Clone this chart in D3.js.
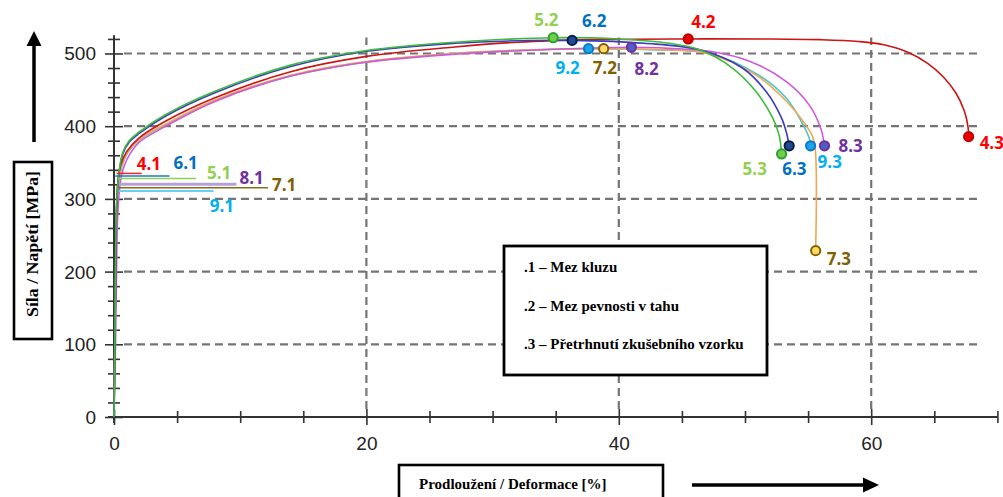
<!DOCTYPE html>
<html>
<head>
<meta charset="utf-8">
<script src="https://cdn.jsdelivr.net/npm/d3@7"></script>
<style>
  body { margin: 0; background: #fff; }
</style>
</head>
<body>
<div id="chart"></div>
<script>
// ---- data (strain %, stress MPa) ----
var specimens = ["4", "5", "6", "7", "8", "9"];

var curve4 = [[0,0],[0.1,150],[0.2,280],[0.3,322],[0.5,345],[1.0,365],[2,384],[4,406],[8,439],[14,475],[20,496],[27,509],[32,515.5],[38,519],[45.5,520],[52,520],[56,519],[59,516.5],[61,512],[63,501],[64.5,486],[65.7,468],[66.7,446],[67.4,420],[67.68,398],[67.72,385.6]];
var curve5 = [[0,0],[0.1,150],[0.2,290],[0.4,337],[0.7,364],[1.2,380],[2,392],[4,415],[8,448],[14,484],[20,504],[27,515.5],[31,519.5],[34.8,521.7],[40,520],[44,514],[46.4,505],[49,480],[50.9,447],[52.2,411],[52.7,388],[52.9,362]];
var curve6 = [[0,0],[0.1,150],[0.2,290],[0.4,335],[0.7,362],[1.2,378],[2,390],[4,413],[8,446],[14,482],[20,503],[27,514],[32,517.5],[36.3,518],[42,514],[46.4,505],[49.8,480],[51.7,447],[52.9,411],[53.3,390],[53.5,373]];
var curve7 = [[0,0],[0.1,140],[0.2,270],[0.35,320],[0.6,345],[1.1,365],[2,382],[4,402],[8,436],[14,470],[20,489],[27,500],[33,505],[38.8,506.6],[44,505],[47,500],[50.9,470],[53.3,434],[54.8,402],[55.3,388],[55.55,372],[55.6,229]];
var curve8 = [[0,0],[0.12,100],[0.2,200],[0.3,280],[0.5,322],[0.8,345],[1.3,363],[2,378],[4,399],[8,434],[14,469],[20,488],[27,499],[33,504.5],[41,508.5],[44,507],[47.2,503],[50.4,489],[53.3,461],[55.1,429],[56,397],[56.3,373]];
var curve9 = [[0,0],[0.1,140],[0.2,270],[0.35,318],[0.6,343],[1.1,364],[2,381],[4,401],[8,435],[14,469],[20,488.5],[27,500],[33,505],[37.6,506.6],[43,505],[47.2,500],[51.1,470],[53.3,438],[54.6,402],[55.1,383],[55.2,373]];

// .1 yield stress and length of the marker line (strain)
var yieldStress = [335, 328, 331.5, 315.4, 320, 311];
var yieldFrom   = [0.2, 0.3, 0.1, 0.4, 0.4, 0.4];
var yieldTo     = [2.2, 6.5, 4.4, 12.2, 9.7, 7.9];
// .2 ultimate strength
var ultimatePoints = [[45.5,520],[34.8,521.7],[36.3,518],[38.8,506.6],[41.0,508.5],[37.6,506.6]];
// .3 fracture
var fracturePoints = [[67.72,385.6],[52.9,361.8],[53.5,373],[55.6,228.8],[56.3,373],[55.2,373]];

var xTickLabels = [0, 20, 40, 60];
var yTickLabels = [0, 100, 200, 300, 400, 500];
var legendItems = [".1 \u2013 Mez kluzu", ".2 \u2013 Mez pevnosti v tahu", ".3 \u2013 P\u0159etrhnut\u00ed zku\u0161ebn\u00edho vzorku"];

// ---- styles / layout ----
var curves = [curve4, curve5, curve6, curve7, curve8, curve9];
var curveColor  = ["#cc1414", "#3dbb3d", "#3b3bbf", "#f2a654", "#cf5ad8", "#45c9cc"];
var labelColor  = ["#ff0000", "#92d050", "#0070c0", "#806000", "#7030a0", "#00b0f0"];
var yieldColor  = ["#ff2020", "#8fd050", "#1a78c8", "#8a6a1c", "#b6a0d8", "#66d2f2"];
var yieldWidth  = [1.5, 1.5, 1.5, 1.5, 3, 2];
var markFill    = ["#e60000", "#6fcf4a", "#1f4a94", "#ffd966", "#4b5fc4", "#1aa6e6"];
var markStroke  = ["#c00000", "#2e9e2e", "#0a1d45", "#7f6000", "#7030a0", "#0a78c8"];
var drawOrder   = [5, 3, 4, 0, 2, 1];

// label offsets in px: .1 from the line end, .2/.3 from the marker (text start, text middle)
var off1 = [[-5,-10],[11,-6],[4,-13],[4,-3],[3,-7],[-4,15]];
var off2 = [[3,-17],[-19,-18],[10,-20],[-11,19],[3,21],[-33,19]];
var off3 = [[11,6],[-39,15],[-7,23],[11,8],[14,0],[7,16]];

var W = 1003, H = 497;
var svg = d3.select("#chart").append("svg")
  .attr("width", W).attr("height", H)
  .style("font-family", "'Liberation Sans', Arial, sans-serif");

var x = d3.scaleLinear().domain([0, 70]).range([114, 114 + 70 * 12.62]);
var y = d3.scaleLinear().domain([0, 525]).range([417, 35.3]);

// grid
var grid = svg.append("g").attr("class", "grid")
  .attr("stroke", "#747474").attr("stroke-width", 2.2).attr("stroke-dasharray", "8,5").attr("fill", "none");
grid.selectAll(".gh").data(yTickLabels.filter(function(d){ return d > 0; }))
  .enter().append("line")
  .attr("x1", x(0) + 10).attr("x2", x(68.6))
  .attr("y1", function(d){ return y(d); }).attr("y2", function(d){ return y(d); });
grid.selectAll(".gv").data(xTickLabels.filter(function(d){ return d > 0; }))
  .enter().append("line")
  .attr("x1", function(d){ return x(d); }).attr("x2", function(d){ return x(d); })
  .attr("y1", y(0) - 8).attr("y2", y(522));

// axes
var xAxis = d3.axisBottom(x).tickValues(d3.range(0, 71, 5)).tickSize(0).tickSizeOuter(0)
  .tickFormat(function(d){ return xTickLabels.indexOf(d) >= 0 ? d : ""; });
var gx = svg.append("g").attr("transform", "translate(0," + y(0) + ")").call(xAxis);
gx.select(".domain").attr("stroke", "#333").attr("stroke-width", 2).attr("d", "M" + (x(0) - 6) + ",0H" + x(70));
gx.selectAll(".tick line").attr("stroke", "#333").attr("stroke-width", 1.6)
  .attr("y1", function(d){ return d % 20 === 0 ? -8 : -6; }).attr("y2", function(d){ return d % 20 === 0 ? 8 : 6; });
gx.selectAll(".tick text").attr("y", 20).attr("dy", "0.71em")
  .attr("fill", "#222").style("font-size", "19px");

var yAxis = d3.axisLeft(y).tickValues(d3.range(0, 521, 20)).tickSize(0).tickSizeOuter(0)
  .tickFormat(function(d){ return yTickLabels.indexOf(d) >= 0 ? d : ""; });
var gy = svg.append("g").attr("transform", "translate(" + x(0) + ",0)").call(yAxis);
gy.select(".domain").attr("stroke", "#333").attr("stroke-width", 2).attr("d", "M0," + (y(0) + 6) + "V" + y(525));
gy.selectAll(".tick line").attr("stroke", "#333").attr("stroke-width", 1.6)
  .attr("x1", function(d){ return d % 100 === 0 ? -9 : -6; }).attr("x2", function(d){ return d % 100 === 0 ? 9 : 6; });
gy.selectAll(".tick text").attr("x", -18).attr("dy", "0.34em")
  .attr("fill", "#222").style("font-size", "19px");

// curves
var line = d3.line()
  .x(function(d){ return x(d[0]); })
  .y(function(d){ return y(d[1]); })
  .curve(d3.curveCatmullRom.alpha(0.5));

svg.append("g").selectAll("path").data(drawOrder).enter().append("path")
  .attr("d", function(i){ return line(curves[i]); })
  .attr("fill", "none")
  .attr("stroke", function(i){ return curveColor[i]; })
  .attr("stroke-width", 1.6);

// .1 yield lines
svg.append("g").selectAll("line").data(specimens).enter().append("line")
  .attr("x1", function(d, i){ return x(yieldFrom[i]); })
  .attr("x2", function(d, i){ return x(yieldTo[i]); })
  .attr("y1", function(d, i){ return y(yieldStress[i]); })
  .attr("y2", function(d, i){ return y(yieldStress[i]); })
  .attr("stroke", function(d, i){ return yieldColor[i]; })
  .attr("stroke-width", function(d, i){ return yieldWidth[i]; });

// .2 / .3 markers
function markers(points) {
  svg.append("g").selectAll("circle").data(specimens).enter().append("circle")
    .attr("cx", function(d, i){ return x(points[i][0]); })
    .attr("cy", function(d, i){ return y(points[i][1]); })
    .attr("r", 4.6)
    .attr("fill", function(d, i){ return markFill[i]; })
    .attr("stroke", function(d, i){ return markStroke[i]; })
    .attr("stroke-width", 2);
}
markers(ultimatePoints);
markers(fracturePoints);

// point labels
var labels = svg.append("g")
  .style("font-family", "'Open Sans', 'DejaVu Sans', sans-serif")
  .style("font-weight", "bold").style("font-size", "17px");
function addLabels(suffix, ax, ay, off) {
  labels.selectAll(".l" + suffix).data(specimens).enter().append("text")
    .attr("x", function(d, i){ return ax(i) + off[i][0]; })
    .attr("y", function(d, i){ return ay(i) + off[i][1]; })
    .attr("dominant-baseline", "central")
    .attr("fill", function(d, i){ return labelColor[i]; })
    .text(function(d){ return d + "." + suffix; });
}
addLabels("1", function(i){ return x(yieldTo[i]); }, function(i){ return y(yieldStress[i]); }, off1);
addLabels("2", function(i){ return x(ultimatePoints[i][0]); }, function(i){ return y(ultimatePoints[i][1]); }, off2);
addLabels("3", function(i){ return x(fracturePoints[i][0]); }, function(i){ return y(fracturePoints[i][1]); }, off3);

// legend box
var serif = "'Liberation Serif', 'Times New Roman', serif";
var leg = svg.append("g");
leg.append("rect").attr("x", 504).attr("y", 246).attr("width", 263).attr("height", 129)
  .attr("fill", "#fff").attr("stroke", "#000").attr("stroke-width", 2.8);
leg.selectAll("text").data(legendItems).enter().append("text")
  .attr("x", 524).attr("y", function(d, i){ return 272 + i * 38.5; })
  .style("font-family", serif).style("font-weight", "bold").style("font-size", "15px")
  .text(function(d){ return d; });

// axis titles
svg.append("rect").attr("x", 14).attr("y", 162).attr("width", 38).attr("height", 177)
  .attr("fill", "#fff").attr("stroke", "#000").attr("stroke-width", 2.6);
svg.append("text").attr("transform", "translate(38,244) rotate(-90)")
  .attr("text-anchor", "middle")
  .attr("textLength", 146).attr("lengthAdjust", "spacingAndGlyphs")
  .style("font-family", serif).style("font-weight", "bold").style("font-size", "16px")
  .text("S\u00edla / Nap\u011bt\u00ed [MPa]");

svg.append("rect").attr("x", 399).attr("y", 465).attr("width", 264).attr("height", 40)
  .attr("fill", "#fff").attr("stroke", "#000").attr("stroke-width", 2.6);
svg.append("text").attr("x", 419).attr("y", 489)
  .style("font-family", serif).style("font-weight", "bold").style("font-size", "15px")
  .text("Prodlou\u017een\u00ed / Deformace [%]");

// arrows
svg.append("line").attr("x1", 34).attr("y1", 142).attr("x2", 34).attr("y2", 44)
  .attr("stroke", "#000").attr("stroke-width", 3.5);
svg.append("path").attr("d", "M34,31L41.5,46L26.5,46Z").attr("fill", "#000");
svg.append("line").attr("x1", 692).attr("y1", 485).attr("x2", 864).attr("y2", 485)
  .attr("stroke", "#000").attr("stroke-width", 3.5);
svg.append("path").attr("d", "M879,485L863,477.5L863,492.5Z").attr("fill", "#000");
</script>
</body>
</html>
